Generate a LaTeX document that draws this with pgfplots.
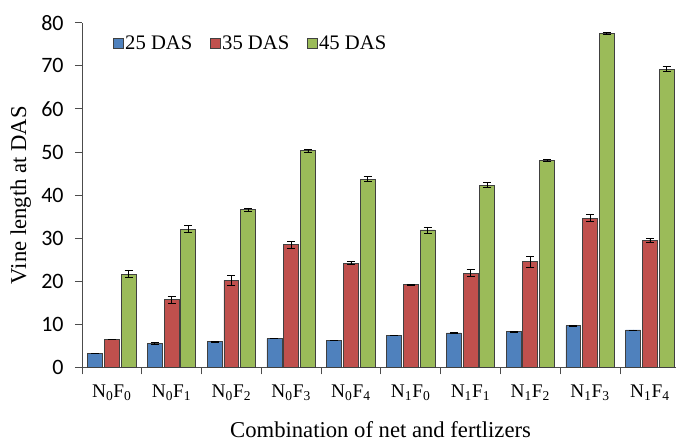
\documentclass[border=0pt]{standalone}
\usepackage{fontspec}
\setmainfont{Liberation Serif}
\newfontfamily\calib{Carlito}
\usepackage{pgfplots}
\pgfplotsset{compat=1.18}
\usepackage{pgfplotstable}
\definecolor{cblue}{HTML}{4F81BD}
\definecolor{cred}{HTML}{C0504D}
\definecolor{cgreen}{HTML}{9BBB59}
\pgfplotstableread{
x  b    be   r    re   g    ge
0  3.2  0.0  6.5  0.0  21.6 0.8
1  5.6  0.2  15.7 0.8  32.1 0.8
2  6.0  0.1  20.2 1.1  36.6 0.4
3  6.7  0.0  28.5 0.8  50.3 0.3
4  6.3  0.0  24.2 0.4  43.7 0.6
5  7.5  0.0  19.2 0.1  31.9 0.7
6  8.0  0.1  21.9 0.8  42.3 0.6
7  8.3  0.1  24.5 1.3  48.0 0.3
8  9.7  0.1  34.6 0.8  77.5 0.2
9  8.7  0.0  29.5 0.5  69.2 0.6
}\datatable
\begin{document}
\begin{tikzpicture}
\begin{axis}[
  name=ax,
  width=445.5pt, height=258.75pt, scale only axis,
  xmin=-0.5, xmax=9.43, ymin=0, ymax=80,
  ybar, bar width=0.25,
  axis x line*=bottom, axis y line*=left,
  axis line style={black!70, line width=0.6pt},
  xtick={0,...,9},
  xticklabels={N\textsubscript{0}F\textsubscript{0},N\textsubscript{0}F\textsubscript{1},N\textsubscript{0}F\textsubscript{2},N\textsubscript{0}F\textsubscript{3},N\textsubscript{0}F\textsubscript{4},N\textsubscript{1}F\textsubscript{0},N\textsubscript{1}F\textsubscript{1},N\textsubscript{1}F\textsubscript{2},N\textsubscript{1}F\textsubscript{3},N\textsubscript{1}F\textsubscript{4}},
  major x tick style={draw=none},
  minor xtick={-0.5,0.5,...,8.5},
  minor tick length=5.25pt,
  minor x tick style={black!70, line width=0.6pt},
  ytick={0,10,...,80},
  major tick length=5.25pt,
  major y tick style={black!70, line width=0.6pt},
  tick align=outside,
  /pgf/number format/assume math mode=true,
  yticklabel style={font=\calib\fontsize{16.5}{18}\selectfont, xshift=-5pt},
  xticklabel style={font=\fontsize{14.5}{16}\selectfont, yshift=-4pt},
  ylabel={Vine length at DAS},
  xlabel={Combination of net and fertlizers},
  every axis y label/.style={at={(axis description cs:-0.103,0.5)}, rotate=90, anchor=center, font=\fontsize{17}{20}\selectfont},
  every axis x label/.style={at={(axis description cs:0.503,-0.1805)}, anchor=center, font=\fontsize{17}{20}\selectfont},
  legend style={at={(0.045,0.975)}, anchor=north west, draw=none, fill=none,
    font=\fontsize{15.5}{18}\selectfont, legend columns=-1,
    /tikz/every even column/.append style={column sep=12pt},
    nodes={inner sep=1.2pt}},
  legend image code/.code={\draw[#1, draw=black!75, line width=0.5pt] (0pt,-3.75pt) rectangle (7.5pt,3.75pt);},
  error bars/y dir=both, error bars/y explicit,
  error bars/error bar style={black, line width=0.6pt},
  error bars/error mark options={rotate=90, mark size=3pt, black, line width=0.6pt},
]
\addplot[fill=cblue, draw=black!75, line width=0.6pt, bar shift=-0.28] table[x=x, y=b, y error=be] {\datatable};
\addplot[fill=cred, draw=black!75, line width=0.6pt, bar shift=0] table[x=x, y=r, y error=re] {\datatable};
\addplot[fill=cgreen, draw=black!75, line width=0.6pt, bar shift=0.28] table[x=x, y=g, y error=ge] {\datatable};
\legend{25 DAS, 35 DAS, 45 DAS}
\end{axis}
\path ([shift={(-61.5pt,-55pt)}]ax.south west) rectangle ([shift={(0pt,17pt)}]ax.north east);
\end{tikzpicture}
\end{document}
